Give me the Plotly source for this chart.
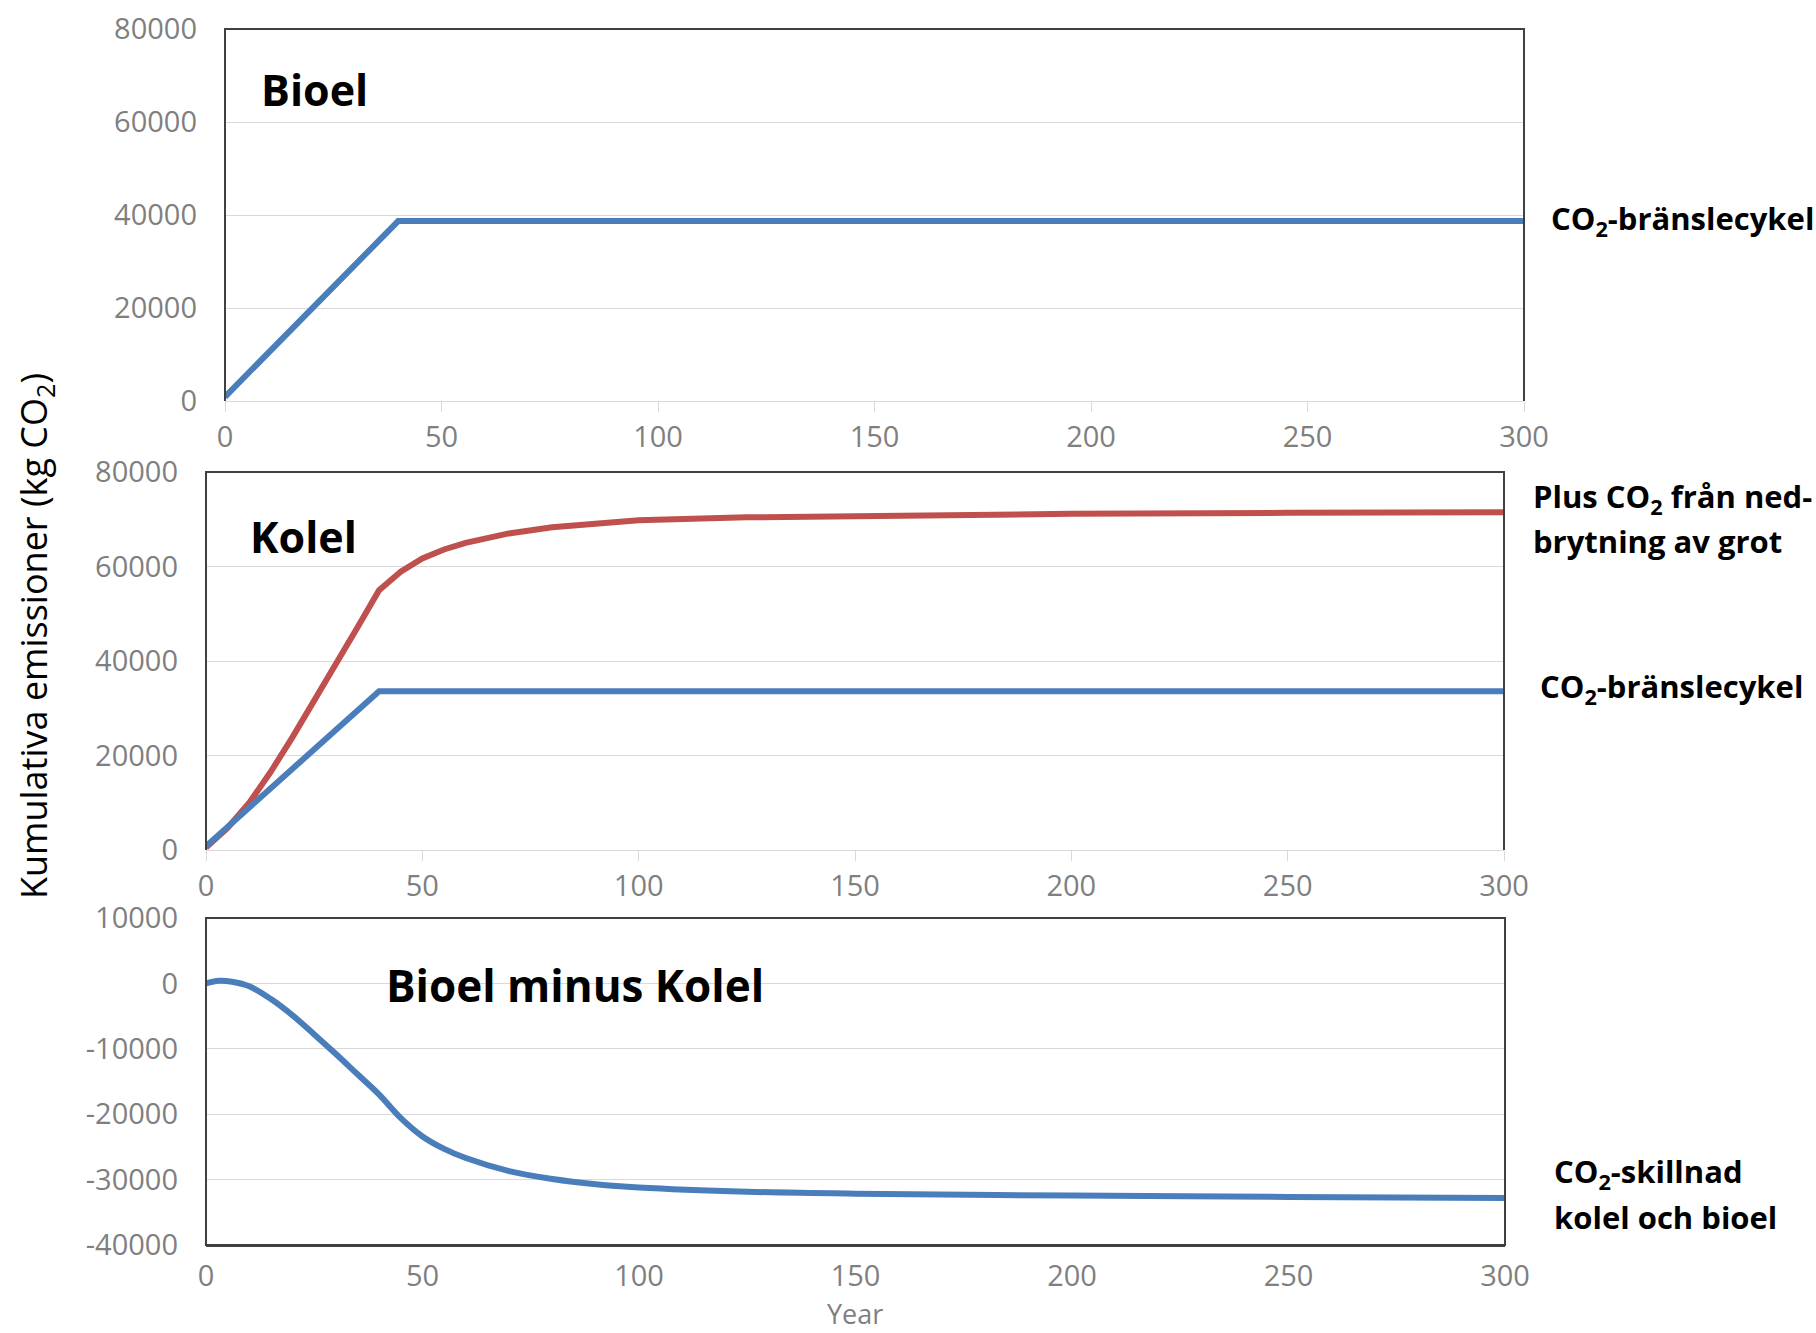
import plotly.graph_objects as go

W, H = 1816, 1333

# Bioel - CO2 från bränslecykeln (kg CO2)
bio_years = [0, 40, 300]
bio_co2 = [900, 38700, 38700]

# Kolel - bränslecykel och plus nedbrytning av grot
kol_years = [0, 40, 300]
kol_co2 = [800, 33600, 33600]
grot_years = [0, 5, 10, 15, 20, 25, 30, 35, 40, 45, 50, 55, 60, 65, 70, 80, 90, 100, 125, 150, 200, 250, 300]
grot_co2 = [500, 4700, 10000, 16600, 23900, 31500, 39300, 47100, 55000, 58900, 61700, 63600,
            65000, 66100, 67000, 68300, 69200, 69800, 70400, 70750, 71150, 71350, 71500]

# Bioel minus Kolel
diff_years = [0, 3, 6, 10, 15, 20, 25, 30, 35, 40, 45, 50, 55, 60, 70, 80, 90, 100, 125, 150, 200, 250, 300]
diff_co2 = [0, 400, 250, -450, -2400, -4900, -7800, -10800, -13900, -17000, -20600, -23400,
            -25300, -26700, -28700, -29900, -30700, -31200, -31850, -32150, -32450, -32650, -32800]

x_ticks = [0, 50, 100, 150, 200, 250, 300]
y_ticks_top = [0, 20000, 40000, 60000, 80000]
y_ticks_diff = [-40000, -30000, -20000, -10000, 0, 10000]

BLUE = "#4a7ebb"
RED = "#c0504d"
GRID = "#d9d9d9"
BORDER = "#404040"
TICKFONT = dict(family="Open Sans", size=29, color="#7f7f7f")
BOLD = "Open Sans"


def fx(px):
    return px / W


def fy(py):
    return 1 - py / H


fig = go.Figure()
fig.add_trace(go.Scatter(x=bio_years, y=bio_co2, mode="lines", line=dict(color=BLUE, width=6),
                         xaxis="x", yaxis="y"))
fig.add_trace(go.Scatter(x=grot_years, y=grot_co2, mode="lines", line=dict(color=RED, width=6),
                         xaxis="x2", yaxis="y2"))
fig.add_trace(go.Scatter(x=kol_years, y=kol_co2, mode="lines", line=dict(color=BLUE, width=6),
                         xaxis="x2", yaxis="y2"))
fig.add_trace(go.Scatter(x=diff_years, y=diff_co2, mode="lines", line=dict(color=BLUE, width=6, shape="spline", smoothing=1),
                         xaxis="x3", yaxis="y3"))

xcommon = dict(range=[0, 300], tickvals=x_ticks, ticktext=[str(v) for v in x_ticks],
               showgrid=False, zeroline=False, tickfont=TICKFONT, automargin=False,
               showline=True, linecolor=GRID, linewidth=1, ticks="outside", ticklen=10, tickcolor=GRID,
               ticklabelstandoff=0)
ycommon = dict(showgrid=True, gridcolor=GRID, gridwidth=1, zeroline=False, tickfont=TICKFONT,
               automargin=False, showline=False, ticks="", ticklabelstandoff=27)

panels = [
    # (x-domain px, y-domain px, y range, y ticks)
    ((225, 1524), (29, 401), [0, 80000], y_ticks_top),
    ((206, 1504), (472, 850), [0, 80000], y_ticks_top),
    ((206, 1505), (918, 1245), [-40000, 10000], y_ticks_diff),
]

layout = dict(width=W, height=H, margin=dict(l=0, r=0, t=0, b=0, autoexpand=False), showlegend=False,
              plot_bgcolor="white", paper_bgcolor="white")
shapes = []
for i, ((x0, x1), (y0, y1), yr, yt) in enumerate(panels, start=1):
    sfx = "" if i == 1 else str(i)
    xa = dict(xcommon, domain=[fx(x0), fx(x1)], anchor="y" + sfx)
    ya = dict(ycommon, domain=[fy(y1), fy(y0)], anchor="x" + sfx, range=yr,
              tickvals=yt, ticktext=[str(v) for v in yt])
    if i == 3:
        xa.update(linecolor=BORDER, linewidth=2, ticks="", ticklabelstandoff=4)
    layout["xaxis" + sfx] = xa
    layout["yaxis" + sfx] = ya
    xref = "x" + sfx + " domain"
    yref = "y" + sfx + " domain"
    if i == 3:
        shapes.append(dict(type="rect", xref=xref, yref=yref, x0=0, x1=1, y0=0, y1=1,
                           line=dict(color=BORDER, width=2)))
    else:
        shapes.append(dict(type="path", xref=xref, yref=yref, path="M0,0 L0,1 L1,1 L1,0",
                           line=dict(color=BORDER, width=2)))
layout["shapes"] = shapes
fig.update_layout(**layout)


def label(text, x, y, size, bold=True, color="black", anchor="left", angle=0):
    fig.add_annotation(text=f"<b>{text}</b>" if bold else text, xref="paper", yref="paper",
                       x=fx(x), y=fy(y), xanchor=anchor, yanchor="middle", showarrow=False,
                       textangle=angle, font=dict(family=BOLD, size=size, color=color))


label("Bioel", 259, 89, 43)
label("Kolel", 248, 536, 43)
label("Bioel minus Kolel", 384, 985, 44)

label("CO<sub>2</sub>-bränslecykel", 1549, 220, 31)
label("Plus CO<sub>2</sub> från ned-", 1531, 498, 31)
label("brytning av grot", 1531, 541, 31)
label("CO<sub>2</sub>-bränslecykel", 1538, 688, 31)
label("CO<sub>2</sub>-skillnad", 1552, 1173, 31)
label("kolel och bioel", 1552, 1217, 31)

label("Kumulativa emissioner (kg CO<sub>2</sub>)", 35, 636, 36, bold=False, anchor="center", angle=-90)
label("Year", 855, 1313, 27, bold=False, color="#7f7f7f", anchor="center")

# drop the browser's default body margin so the figure sits at the page origin
fig.write_html("out.html", config={"displayModeBar": False},
               post_script="document.body.style.margin='0';")
